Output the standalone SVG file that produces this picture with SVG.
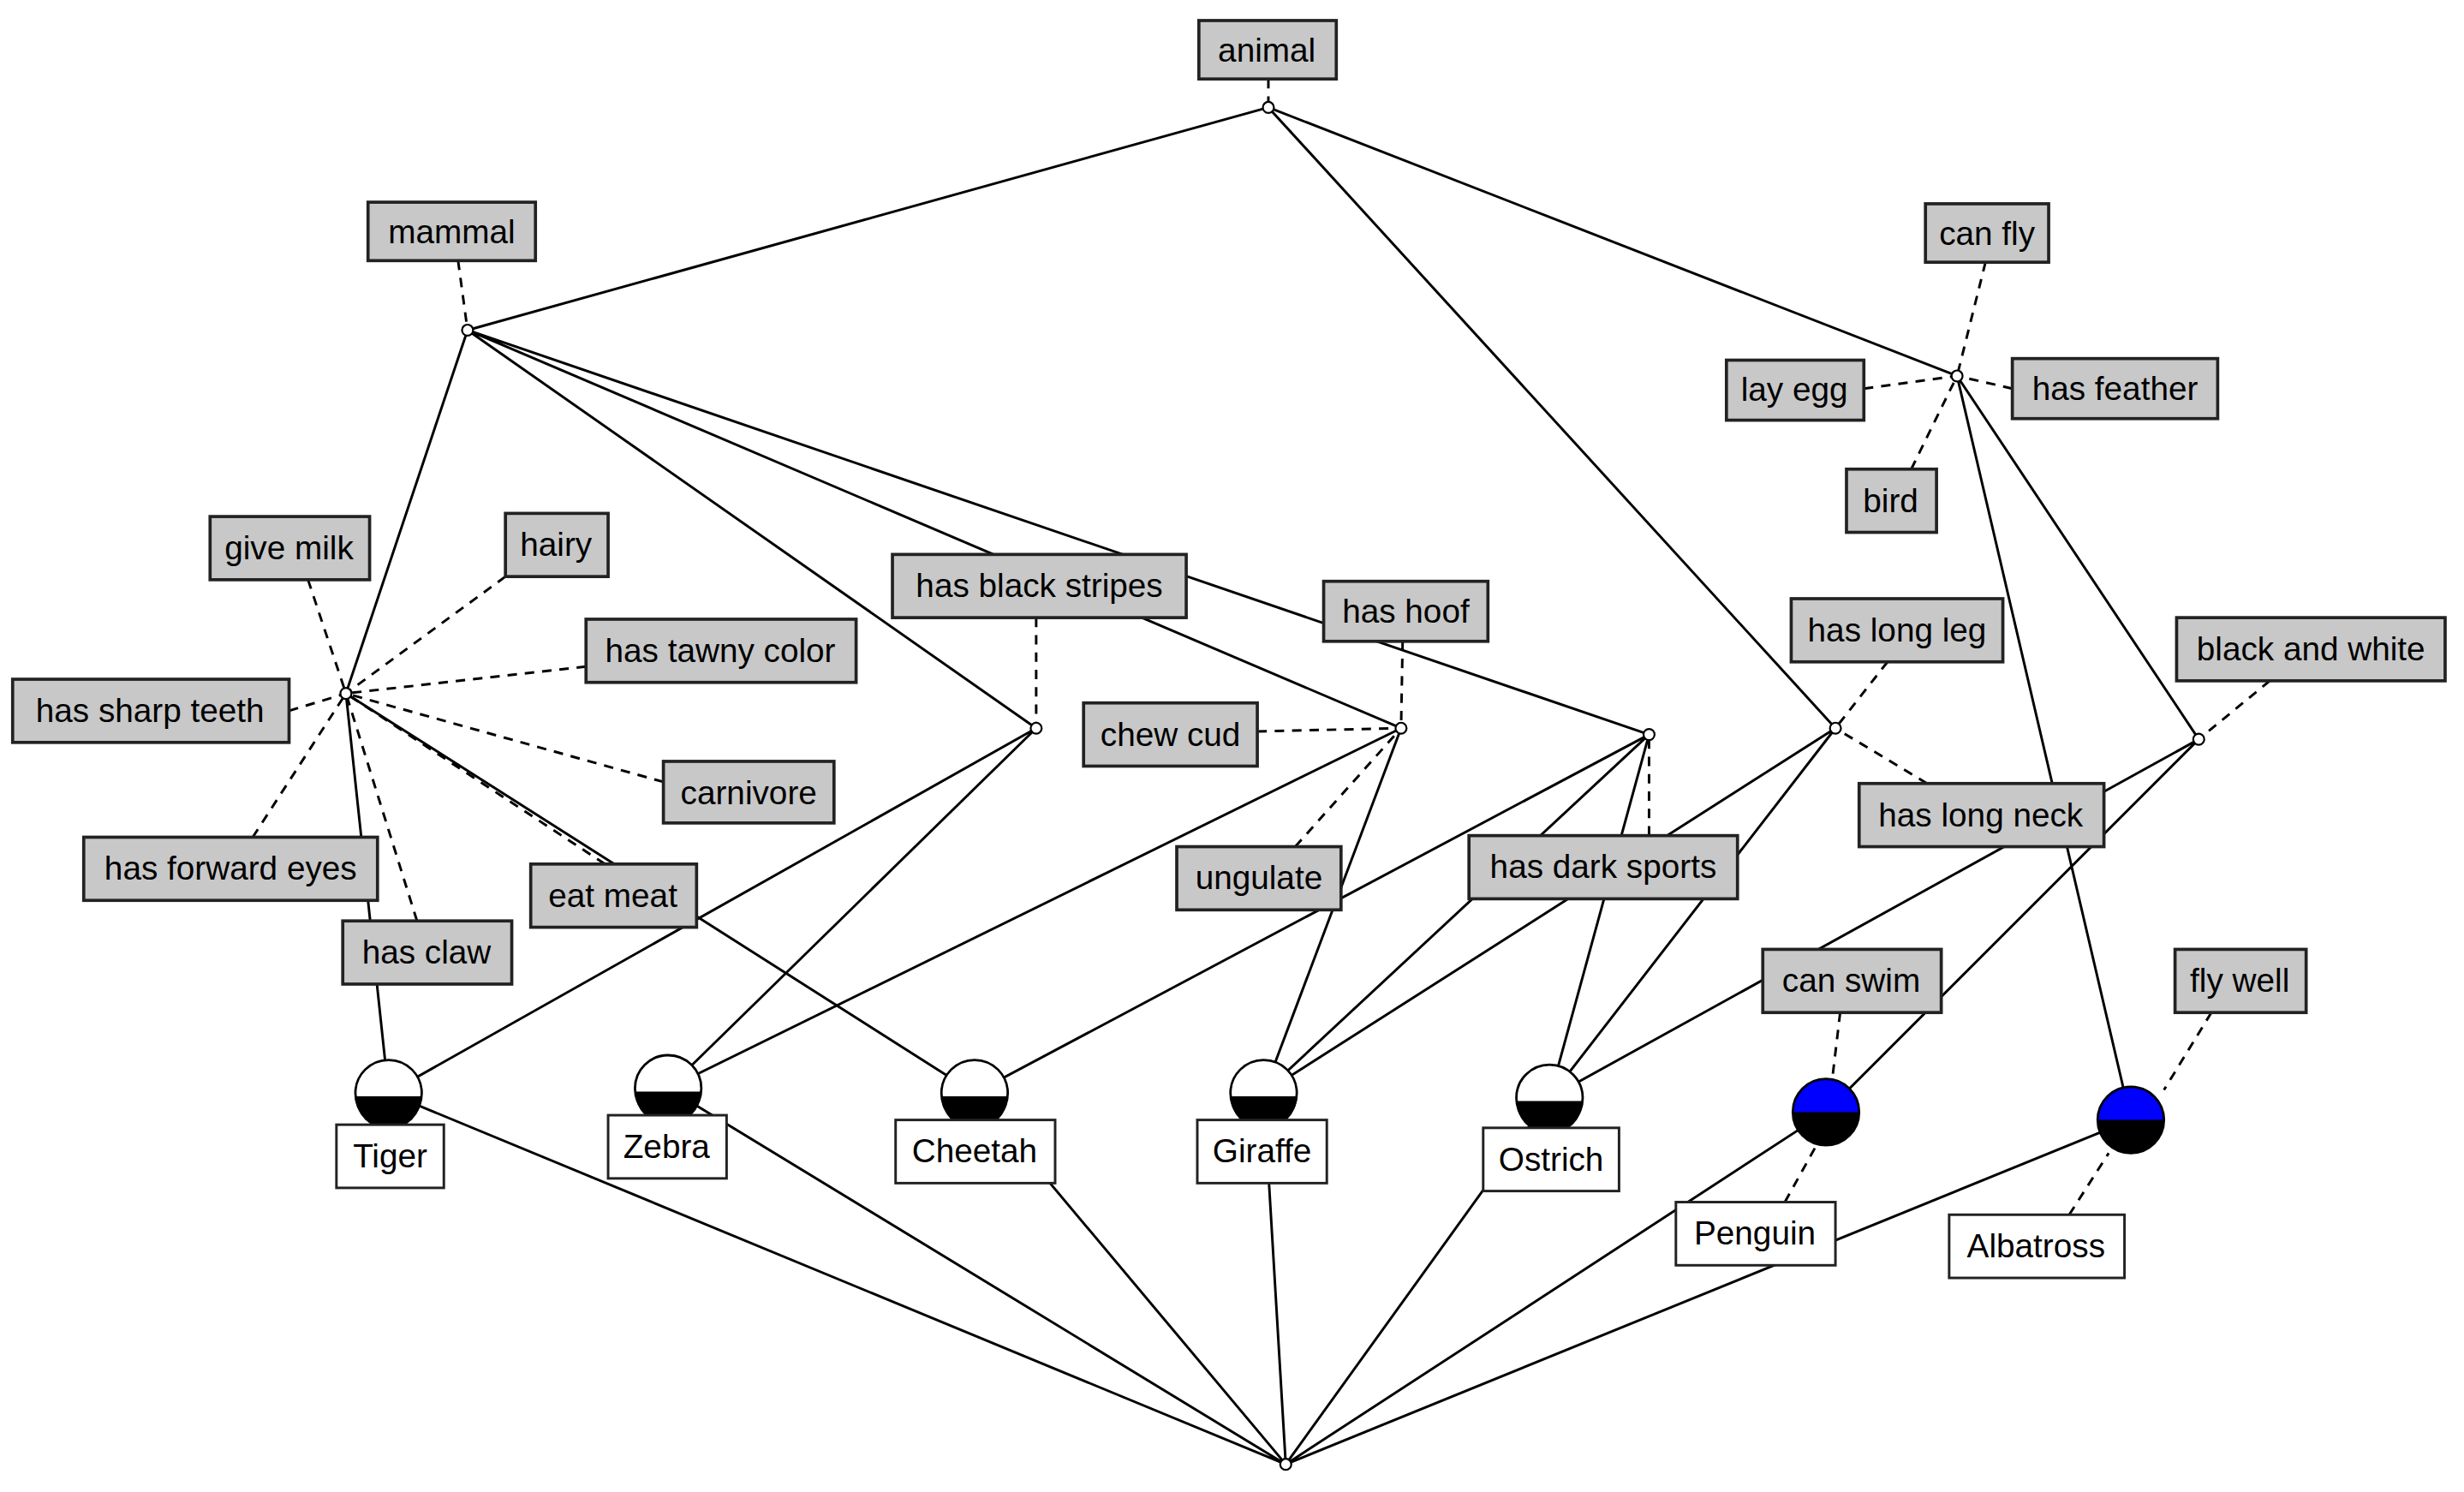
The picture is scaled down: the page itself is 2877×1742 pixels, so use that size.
<svg xmlns="http://www.w3.org/2000/svg" width="2877" height="1742" viewBox="0 0 2877 1742">
<style>
.e{stroke:#000;stroke-width:1.6;fill:none}
.d{stroke:#000;stroke-width:1.6;fill:none;stroke-dasharray:6,5}
.g rect{fill:#c8c8c8;stroke:#222;stroke-width:2}
.w rect{fill:#fff;stroke:#222;stroke-width:1.6}
text{font-family:"Liberation Sans",Arial,sans-serif;font-size:21px;fill:#000;text-anchor:middle}
.c{fill:#fff;stroke:#000;stroke-width:1.2}
</style>
<rect width="2877" height="1742" fill="#fff"/>
<g transform="scale(1.8443)">
<g id="connectors">
<path class="e" d="M803,68L296,209M803,68L1239,238M803,68L1162,461M296,209L219,439M296,209L656,461M296,209L887,461M296,209L1044,465M219,439L246,692M219,439L617,692M656,461L246,692M656,461L423,689M887,461L423,689M887,461L800,692M1044,465L617,692M1044,465L800,692M1044,465L981,695M1162,461L800,692M1162,461L981,695M1392,468L981,695M1392,468L1156,704M1239,238L1392,468M1239,238L1349,709M814,927L246,692M814,927L423,689M814,927L617,692M814,927L800,692M814,927L981,695M814,927L1156,704M814,927L1349,709"/>
<path class="d" d="M803,50L803,68M290,165L296,209M1257,166L1239,238M1180,246L1239,238M1274,246L1239,238M1210,297L1239,238M195,367L219,439M320,365L219,439M371,422L219,439M183,450L219,439M420,495L219,439M160,530L219,439M383,547L219,439M264,583L219,439M656,391L656,461M888,406L887,461M796,463L887,461M820,536L887,461M1044,529L1044,465M1195,419L1162,461M1220,496L1162,461M1437,431L1392,468M1165,641L1160,683M1130,761L1150,725M1400,641L1370,690M1310,769L1335,730"/>
</g>
<g id="n_top"><circle class="c" cx="803" cy="68" r="3.5"/></g>
<g id="n_mammal"><circle class="c" cx="296" cy="209" r="3.5"/></g>
<g id="n_carn"><circle class="c" cx="219" cy="439" r="3.5"/></g>
<g id="n_stripes"><circle class="c" cx="656" cy="461" r="3.5"/></g>
<g id="n_hoof"><circle class="c" cx="887" cy="461" r="3.5"/></g>
<g id="n_dark"><circle class="c" cx="1044" cy="465" r="3.5"/></g>
<g id="n_leg"><circle class="c" cx="1162" cy="461" r="3.5"/></g>
<g id="n_bird"><circle class="c" cx="1239" cy="238" r="3.5"/></g>
<g id="n_bw"><circle class="c" cx="1392" cy="468" r="3.5"/></g>
<g id="n_bottom"><circle class="c" cx="814" cy="927" r="3.5"/></g>

<g class="g" id="l_animal"><rect x="759" y="13" width="87" height="37"/><text x="802" y="39">animal</text></g>
<g class="g" id="l_mammal"><rect x="233" y="128" width="106" height="37"/><text x="286" y="154">mammal</text></g>
<g class="g" id="l_canfly"><rect x="1219" y="129" width="78" height="37"/><text x="1258" y="155">can fly</text></g>
<g class="g" id="l_layegg"><rect x="1093" y="228" width="87" height="38"/><text x="1136" y="254">lay egg</text></g>
<g class="g" id="l_feather"><rect x="1274" y="227" width="130" height="38"/><text x="1339" y="253">has feather</text></g>
<g class="g" id="l_bird"><rect x="1169" y="297" width="57" height="40"/><text x="1197" y="324">bird</text></g>
<g class="g" id="l_milk"><rect x="133" y="327" width="101" height="40"/><text x="183" y="354">give milk</text></g>
<g class="g" id="l_hairy"><rect x="320" y="325" width="65" height="40"/><text x="352" y="352">hairy</text></g>
<g class="g" id="l_stripes"><rect x="565" y="351" width="186" height="40"/><text x="658" y="378">has black stripes</text></g>
<g class="g" id="l_hoof"><rect x="838" y="368" width="104" height="38"/><text x="890" y="394">has hoof</text></g>
<g class="g" id="l_longleg"><rect x="1134" y="379" width="134" height="40"/><text x="1201" y="406">has long leg</text></g>
<g class="g" id="l_bw"><rect x="1378" y="391" width="170" height="40"/><text x="1463" y="418">black and white</text></g>
<g class="g" id="l_tawny"><rect x="371" y="392" width="171" height="40"/><text x="456" y="419">has tawny color</text></g>
<g class="g" id="l_teeth"><rect x="8" y="430" width="175" height="40"/><text x="95" y="457">has sharp teeth</text></g>
<g class="g" id="l_cud"><rect x="686" y="445" width="110" height="40"/><text x="741" y="472">chew cud</text></g>
<g class="g" id="l_carnivore"><rect x="420" y="482" width="108" height="39"/><text x="474" y="509">carnivore</text></g>
<g class="g" id="l_neck"><rect x="1177" y="496" width="155" height="40"/><text x="1254" y="523">has long neck</text></g>
<g class="g" id="l_eyes"><rect x="53" y="530" width="186" height="40"/><text x="146" y="557">has forward eyes</text></g>
<g class="g" id="l_meat"><rect x="336" y="547" width="105" height="40"/><text x="388" y="574">eat meat</text></g>
<g class="g" id="l_ungulate"><rect x="745" y="536" width="104" height="40"/><text x="797" y="563">ungulate</text></g>
<g class="g" id="l_dark"><rect x="930" y="529" width="170" height="40"/><text x="1015" y="556">has dark sports</text></g>
<g class="g" id="l_claw"><rect x="217" y="583" width="107" height="40"/><text x="270" y="610">has claw</text></g>
<g class="g" id="l_swim"><rect x="1116" y="601" width="113" height="40"/><text x="1172" y="628">can swim</text></g>
<g class="g" id="l_flywell"><rect x="1377" y="601" width="83" height="40"/><text x="1418" y="628">fly well</text></g>

<defs>
<g id="obj"><circle r="21" fill="#fff" stroke="#000" stroke-width="1.5"/><path d="M-21,2A21,21 0 0 0 21,2Z" fill="#000"/></g>
<g id="objb"><circle r="21" fill="#0000ff" stroke="#000" stroke-width="1.5"/><path d="M-21,0A21,21 0 0 0 21,0Z" fill="#000"/></g>
</defs>
<g id="o_tiger"><use href="#obj" x="246" y="692"/><g class="w"><rect x="213" y="712" width="68" height="40"/><text x="247" y="739">Tiger</text></g></g>
<g id="o_zebra"><use href="#obj" x="423" y="689"/><g class="w"><rect x="385" y="706" width="75" height="40"/><text x="422" y="733">Zebra</text></g></g>
<g id="o_cheetah"><use href="#obj" x="617" y="692"/><g class="w"><rect x="567" y="709" width="101" height="40"/><text x="617" y="736">Cheetah</text></g></g>
<g id="o_giraffe"><use href="#obj" x="800" y="692"/><g class="w"><rect x="758" y="709" width="82" height="40"/><text x="799" y="736">Giraffe</text></g></g>
<g id="o_ostrich"><use href="#obj" x="981" y="695"/><g class="w"><rect x="939" y="714" width="86" height="40"/><text x="982" y="741">Ostrich</text></g></g>
<g id="o_penguin"><use href="#objb" x="1156" y="704"/><g class="w"><rect x="1061" y="761" width="101" height="40"/><text x="1111" y="788">Penguin</text></g></g>
<g id="o_albatross"><use href="#objb" x="1349" y="709"/><g class="w"><rect x="1234" y="769" width="111" height="40"/><text x="1289" y="796">Albatross</text></g></g>
</g>
</svg>
